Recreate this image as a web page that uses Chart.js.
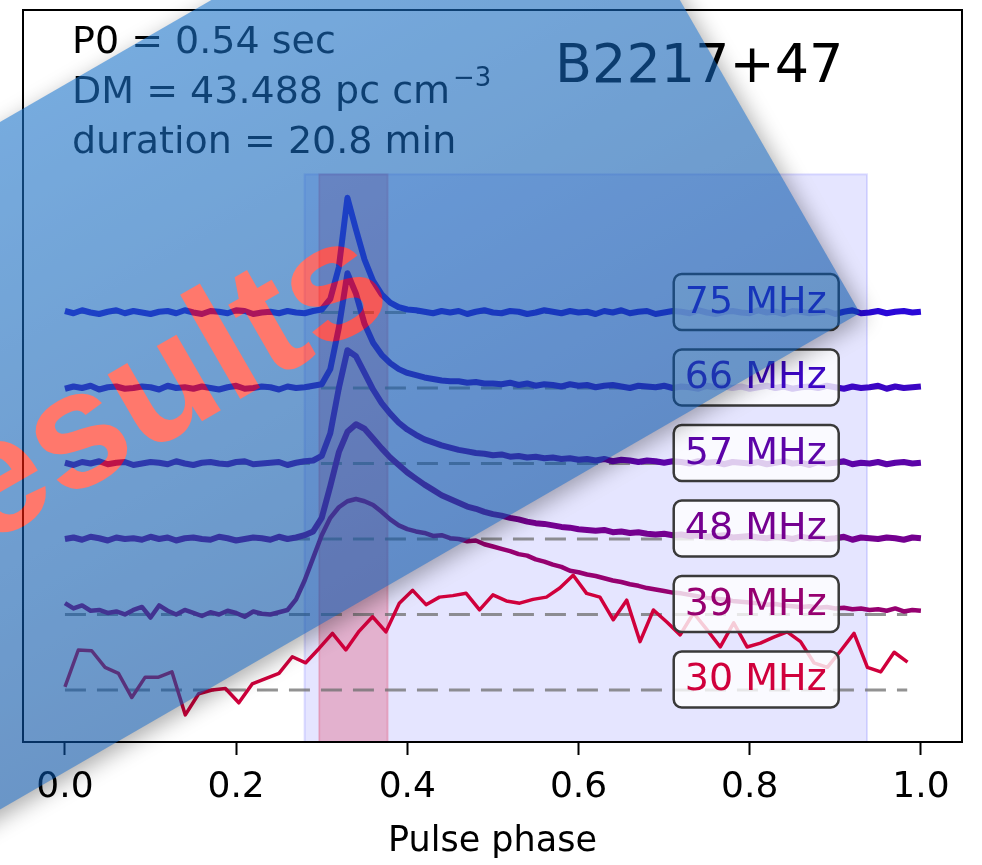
<!DOCTYPE html>
<html>
<head>
<meta charset="utf-8">
<script src="https://cdn.jsdelivr.net/npm/chart.js@4.4.1/dist/chart.umd.min.js"></script>
<style>
  html, body { margin: 0; padding: 0; background: #fff; }
</style>
</head>
<body>
<canvas id="profile-chart" width="982" height="865"></canvas>
<script>
// channels, bottom to top
const freqLabels = ["30 MHz", "39 MHz", "48 MHz", "57 MHz", "66 MHz", "75 MHz"];
const traceColors = ["#d0003c", "#960070", "#740090", "#5c04a8", "#3c06c4", "#2a08d8"];
const xTicks = [0.0, 0.2, 0.4, 0.6, 0.8, 1.0];

// phase bins
const phaseFine = Array.from({length: 101}, (_, i) => i / 100);
const phaseCoarse = Array.from({length: 64}, (_, i) => i / 64);

// normalised profiles (peak ~1.5 baseline spacings)
const prof30 = [0.04, 0.53, 0.52, 0.30, 0.22, -0.10, 0.17, 0.17, 0.24, -0.33,
  -0.05, 0.00, 0.02, -0.17, 0.08, 0.15, 0.22, 0.44, 0.36, 0.55,
  0.75, 0.53, 0.78, 0.97, 0.77, 1.15, 1.32, 1.13, 1.23, 1.25,
  1.28, 1.06, 1.26, 1.18, 1.15, 1.20, 1.23, 1.35, 1.52, 1.28,
  1.23, 0.93, 1.19, 0.64, 1.06, 0.90, 0.73, 1.02, 0.80, 0.57,
  0.89, 0.57, 0.62, 0.70, 0.77, 0.64, 0.36, 0.30, 0.52, 0.75,
  0.30, 0.24, 0.50, 0.37];

const prof39 = [0.15, 0.08, 0.12, 0.05, 0.06, 0.02, 0.04, 0.00, 0.06, 0.10,
  -0.04, 0.12, 0.05, 0.00, 0.06, 0.02, -0.02, 0.03, 0.00, 0.05,
  0.02, -0.03, 0.04, 0.01, 0.00, 0.03,
  0.06, 0.20, 0.45, 0.75, 1.05, 1.28, 1.42, 1.50, 1.53, 1.50,
  1.45, 1.36, 1.26, 1.18, 1.13, 1.10, 1.08, 1.04, 1.05, 1.01,
  1.00, 0.97, 0.98, 0.93, 0.90,
  0.87, 0.84, 0.80, 0.78, 0.73, 0.70, 0.66, 0.63, 0.58, 0.56,
  0.53, 0.51, 0.48, 0.45, 0.43, 0.40, 0.38, 0.35, 0.33, 0.31,
  0.29, 0.28, 0.26, 0.24, 0.22, 0.21, 0.20, 0.18, 0.17, 0.16,
  0.15, 0.13, 0.14, 0.12, 0.11, 0.10, 0.11, 0.09, 0.10, 0.08,
  0.09, 0.07, 0.08, 0.06, 0.07, 0.05, 0.08, 0.04, 0.06, 0.05];

const prof48 = [0.00, 0.02, -0.01, 0.03, 0.01, -0.02, 0.02, 0.00, 0.01, -0.01,
  0.03, 0.00, 0.02, -0.02, 0.01, 0.02, 0.00, -0.01, 0.03, 0.01,
  -0.02, 0.00, 0.02, 0.01, -0.01, 0.03, 0.00, 0.02,
  0.05, 0.10, 0.28, 0.70, 1.15, 1.42, 1.52, 1.46, 1.33, 1.20,
  1.08, 0.98, 0.88, 0.80, 0.72, 0.65, 0.58, 0.53, 0.48, 0.43,
  0.40, 0.36, 0.33, 0.31, 0.28, 0.26, 0.23, 0.21, 0.20, 0.18,
  0.16, 0.15, 0.13,
  0.12, 0.11, 0.12, 0.09, 0.10, 0.08, 0.09, 0.07, 0.06, 0.07,
  0.05, 0.06, 0.04, 0.05, 0.03, 0.04, 0.05, 0.02, 0.03, 0.04,
  0.02, 0.01, 0.03, 0.02, 0.00, 0.03, 0.01, 0.02, 0.00, 0.01,
  0.03, -0.01, 0.02, 0.01, 0.00, 0.02, 0.01, -0.01, 0.02, 0.01];

const prof57 = [0.01, -0.02, 0.02, 0.00, 0.03, -0.01, 0.01, 0.02, -0.02, 0.00,
  0.02, 0.01, -0.01, 0.03, 0.00, -0.02, 0.01, 0.02, 0.00, -0.01,
  0.02, 0.03, -0.01, 0.00, 0.01, 0.02, -0.02, 0.01, 0.03,
  0.04, 0.10, 0.40, 1.00, 1.50, 1.42, 1.20, 0.98, 0.80, 0.66,
  0.54, 0.45, 0.38, 0.32, 0.28, 0.24, 0.21, 0.18, 0.16, 0.14,
  0.13, 0.11,
  0.12, 0.09, 0.10, 0.08, 0.09, 0.07, 0.08, 0.06, 0.07, 0.05,
  0.06, 0.04, 0.06, 0.03, 0.05, 0.04, 0.02, 0.04, 0.03, 0.01,
  0.03, 0.02, 0.00, 0.03, 0.01, 0.02, -0.01, 0.02, 0.01, 0.00,
  0.02, -0.01, 0.01, 0.03, 0.00, 0.01, -0.02, 0.02, 0.00, 0.01,
  0.03, -0.01, 0.01, 0.00, 0.02, -0.01, 0.01, 0.02, 0.00, 0.01];

const prof66 = [-0.01, 0.02, 0.00, 0.03, -0.02, 0.01, 0.02, -0.01, 0.00, 0.02,
  0.01, -0.02, 0.03, 0.00, 0.01, -0.01, 0.02, 0.00, -0.02, 0.01,
  0.03, -0.01, 0.00, 0.02, 0.01, -0.02, 0.02, 0.00, 0.01, 0.03,
  0.05, 0.25, 0.80, 1.52, 1.25, 0.85, 0.60, 0.44, 0.33, 0.25,
  0.20, 0.17, 0.14, 0.12, 0.10, 0.09, 0.09, 0.07, 0.08, 0.06,
  0.06,
  0.05, 0.07, 0.04, 0.06, 0.03, 0.05, 0.04, 0.02, 0.05, 0.03,
  0.04, 0.01, 0.03, 0.04, 0.02, 0.00, 0.03, 0.02, 0.01, 0.03,
  0.00, 0.02, 0.01, -0.01, 0.03, 0.01, 0.02, 0.00, 0.02, -0.01,
  0.01, 0.03, 0.00, 0.02, -0.01, 0.01, 0.02, 0.00, 0.03, 0.01,
  -0.01, 0.02, 0.00, 0.01, 0.03, -0.01, 0.02, 0.00, 0.01, 0.02];

const prof75 = [0.02, -0.01, 0.03, 0.00, -0.02, 0.01, 0.03, -0.01, 0.02, 0.00,
  -0.02, 0.01, 0.02, -0.01, 0.03, 0.00, -0.02, 0.02, 0.01, -0.01,
  0.03, 0.02, -0.02, 0.00, 0.01, -0.01, 0.02, 0.00, -0.01, 0.02,
  0.04, 0.18, 0.60, 1.52, 1.10, 0.70, 0.42, 0.24, 0.13, 0.07,
  0.04,
  0.03, 0.01, -0.01, 0.02, 0.00, 0.02, -0.02, 0.01, 0.03, 0.00,
  -0.01, 0.02, 0.01, -0.02, 0.00, 0.03, 0.01, -0.01, 0.02, 0.00,
  0.01, -0.02, 0.02, 0.00, 0.03, -0.01, 0.01, 0.02, -0.02, 0.00,
  0.02, 0.01, -0.01, 0.03, 0.00, -0.02, 0.01, 0.02, 0.00, -0.01,
  0.03, 0.00, 0.01, -0.02, 0.02, 0.01, -0.01, 0.00, 0.02, -0.02,
  0.01, 0.03, -0.01, 0.00, 0.02, -0.01, 0.01, 0.02, 0.00, 0.01];

const profiles = [prof30, prof39, prof48, prof57, prof66, prof75];
const phases = [phaseCoarse, phaseFine, phaseFine, phaseFine, phaseFine, phaseFine];
const lineWidths = [3.5, 4.5, 6, 6, 6, 6];

const baselineEnd = 0.984;
const windowSpan = [0.280, 0.937];
const peakSpan = [0.297, 0.377];
const spanTop = 6.83;
const labelPhase = 0.807;

const infoLines = ["P0 = 0.54 sec", "DM = 43.488 pc cm", "duration = 20.8 min"];
const psrName = "B2217+47";

const traceSets = profiles.map((p, k) => ({
    data: p.map((v, i) => ({x: phases[k][i], y: v + k})),
    borderColor: traceColors[k],
    borderWidth: lineWidths[k],
    borderJoinStyle: 'round',
    pointRadius: 0,
    order: 1
}));

const baseSets = freqLabels.map((_, k) => ({
    data: [{x: 0, y: k}, {x: baselineEnd, y: k}],
    borderColor: 'rgba(110,110,110,0.75)',
    borderDash: [21, 11],
    borderWidth: 3,
    pointRadius: 0,
    order: 2
}));

const spans = {
    id: 'spans',
    beforeDatasetsDraw(chart) {
        const {ctx, chartArea, scales: {x, y}} = chart;
        const top = y.getPixelForValue(spanTop);
        const bot = chartArea.bottom;
        ctx.save();
        let a = x.getPixelForValue(windowSpan[0]), b = x.getPixelForValue(windowSpan[1]);
        ctx.fillStyle = 'rgba(0,0,255,0.1)';
        ctx.fillRect(a, top, b - a, bot - top);
        ctx.strokeStyle = 'rgba(0,0,255,0.12)';
        ctx.lineWidth = 2;
        ctx.strokeRect(a, top, b - a, bot - top);
        a = x.getPixelForValue(peakSpan[0]); b = x.getPixelForValue(peakSpan[1]);
        ctx.fillStyle = 'rgba(220,20,60,0.25)';
        ctx.fillRect(a, top, b - a, bot - top);
        ctx.strokeStyle = 'rgba(220,20,60,0.2)';
        ctx.strokeRect(a, top, b - a, bot - top);
        ctx.restore();
    }
};

const annotations = {
    id: 'annotations',
    afterDatasetsDraw(chart) {
        const {ctx, chartArea, scales: {x, y}} = chart;
        ctx.save();
        // channel labels
        freqLabels.forEach((lab, k) => {
            const cx = x.getPixelForValue(labelPhase);
            const cy = y.getPixelForValue(k + 0.14);
            ctx.beginPath();
            ctx.roundRect(cx - 82, cy - 28, 165, 56, 8);
            ctx.fillStyle = 'rgba(255,255,255,0.8)';
            ctx.fill();
            ctx.strokeStyle = '#3a3a3a';
            ctx.lineWidth = 2.5;
            ctx.stroke();
            ctx.font = '38px "DejaVu Sans"';
            ctx.fillStyle = traceColors[k];
            ctx.textAlign = 'center';
            ctx.textBaseline = 'middle';
            ctx.fillText(lab, cx, cy + 1);
        });
        // frame
        ctx.strokeStyle = '#000';
        ctx.lineWidth = 2;
        ctx.strokeRect(chartArea.left, chartArea.top, chartArea.right - chartArea.left, chartArea.bottom - chartArea.top);
        // info text
        ctx.fillStyle = '#000';
        ctx.textAlign = 'left';
        ctx.textBaseline = 'alphabetic';
        ctx.font = '38px "DejaVu Sans"';
        ctx.fillText(infoLines[0], 72, 53);
        ctx.fillText(infoLines[1], 72, 103);
        const w = ctx.measureText(infoLines[1]).width;
        ctx.fillText(infoLines[2], 72, 153);
        ctx.font = '26px "DejaVu Sans"';
        ctx.fillText('\u22123', 72 + w + 3, 86);
        ctx.font = '54px "DejaVu Sans"';
        ctx.fillText(psrName, 555, 82);
        ctx.restore();
    }
};

const banner = {
    id: 'banner',
    afterDraw(chart) {
        const ctx = chart.ctx;
        const off = document.createElement('canvas');
        off.width = chart.width;
        off.height = chart.height;
        const o = off.getContext('2d');
        o.save();
        o.shadowColor = 'rgba(0,0,0,0.55)';
        o.shadowBlur = 22;
        o.shadowOffsetX = 5;
        o.shadowOffsetY = 5;
        const g = o.createLinearGradient(100, 64, 397, 580);
        g.addColorStop(0, 'rgb(28,115,200)');
        g.addColorStop(1, 'rgb(8,80,162)');
        o.fillStyle = g;
        o.beginPath();
        o.moveTo(563, -203);
        o.lineTo(860, 313);
        o.lineTo(-439, 1063);
        o.lineTo(-736, 547);
        o.closePath();
        o.fill();
        o.restore();
        o.save();
        o.translate(398, 308);
        o.rotate(-Math.PI / 6);
        o.font = 'bold 166px "Liberation Sans"';
        o.textAlign = 'right';
        o.textBaseline = 'alphabetic';
        o.fillStyle = 'rgb(255,30,10)';
        o.fillText('Results', 0, 0);
        o.restore();
        ctx.save();
        ctx.globalAlpha = 0.6;
        ctx.drawImage(off, 0, 0);
        ctx.restore();
    }
};

new Chart(document.getElementById("profile-chart"), {
    type: 'line',
    data: {
        datasets: baseSets.concat(traceSets)
    },
    options: {
        responsive: false,
        animation: false,
        layout: {
            padding: {left: 23, right: 20, top: 10, bottom: 0}
        },
        plugins: {
            legend: {display: false},
            tooltip: {enabled: false}
        },
        scales: {
            x: {
                type: 'linear',
                min: -0.049,
                max: 1.048,
                afterBuildTicks: s => { s.ticks = xTicks.map(v => ({value: v})); },
                afterFit: s => { s.height = 123; },
                ticks: {
                    callback: v => v.toFixed(1),
                    font: {family: 'DejaVu Sans', size: 36},
                    color: '#000',
                    padding: 11,
                    maxRotation: 0,
                    autoSkip: false
                },
                grid: {
                    drawOnChartArea: false,
                    drawTicks: true,
                    tickLength: 13,
                    tickWidth: 2,
                    tickColor: '#000'
                },
                border: {display: true, color: '#000', width: 2},
                title: {
                    display: true,
                    text: 'Pulse phase',
                    font: {family: 'DejaVu Sans', size: 35},
                    color: '#000',
                    padding: {top: 0, bottom: 2}
                }
            },
            y: {
                type: 'linear',
                display: false,
                min: -0.689,
                max: 9.007
            }
        }
    },
    plugins: [spans, annotations, banner]
});
</script>
</body>
</html>
